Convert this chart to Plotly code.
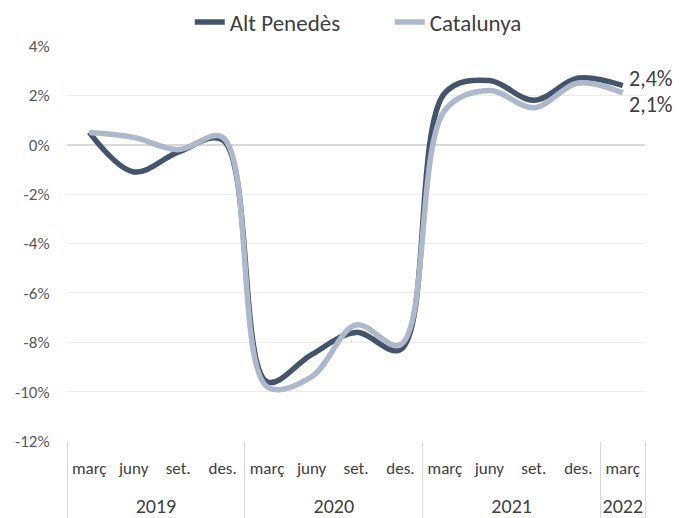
import plotly.graph_objects as go

years = ["2019"] * 4 + ["2020"] * 4 + ["2021"] * 4 + ["2022"]
months = ["març", "juny", "set.", "des."] * 3 + ["març"]
alt_penedes = [0.5, -1.1, -0.3, 0.2, -9.6, -8.5, -7.6, -8.3, 2.1, 2.6, 1.8, 2.7, 2.4]
catalunya = [0.5, 0.3, -0.2, 0.3, -9.8, -9.4, -7.3, -8.1, 1.4, 2.2, 1.5, 2.5, 2.1]
y_ticks = [4, 2, 0, -2, -4, -6, -8, -10, -12]
y_tick_labels = ["4%", "2%", "0%", "-2%", "-4%", "-6%", "-8%", "-10%", "-12%"]
end_labels = ["2,4%", "2,1%"]

# display labels: year labels pushed down one line for the gap between the two label levels
year_labels = ["&nbsp;<br><span style='font-size:20px'>" + y + "</span>" for y in years]
month_labels = ["<span style='font-size:17px'>" + m + "</span>" for m in months]
x_cats = [year_labels, month_labels]

FONT = "Carlito, Calibri, Lato, sans-serif"
DARK = "#44546A"
LIGHT = "#ADB9CA"

fig = go.Figure()
fig.add_trace(go.Scatter(x=x_cats, y=alt_penedes, name="Alt Penedès", mode="lines",
                         line=dict(color=DARK, width=5.5, shape="spline", smoothing=1.0)))
fig.add_trace(go.Scatter(x=x_cats, y=catalunya, name="Catalunya", mode="lines",
                         line=dict(color=LIGHT, width=5.5, shape="spline", smoothing=1.0)))

fig.add_annotation(x=[year_labels[-1], month_labels[-1]], y=alt_penedes[-1], text=end_labels[0], showarrow=False,
                   xanchor="left", xshift=4, yshift=7, font=dict(size=22, color="#404040", family=FONT))
fig.add_annotation(x=[year_labels[-1], month_labels[-1]], y=catalunya[-1], text=end_labels[1], showarrow=False,
                   xanchor="left", xshift=4, yshift=-12, font=dict(size=22, color="#404040", family=FONT))

fig.update_layout(
    width=679, height=518,
    margin=dict(l=67, r=34, t=46, b=77, autoexpand=False),
    paper_bgcolor="white", plot_bgcolor="white",
    font=dict(family=FONT, color="#595959", size=16),
    showlegend=True,
    legend=dict(orientation="h", x=0.574, xanchor="center", xref="container",
                y=1 - 22 / 518, yanchor="middle", yref="container",
                entrywidth=155, entrywidthmode="pixels",
                font=dict(size=23, color="#404040"), tracegroupgap=0),
    xaxis=dict(type="multicategory", range=[-0.5, 12.5], showgrid=False, showline=False,
               ticks="", ticklabelstandoff=11,
               showdividers=True, dividercolor="#D9D9D9", dividerwidth=1,
               tickfont=dict(size=21, color="#404040")),
    yaxis=dict(range=[-12, 4], tickvals=y_ticks, ticktext=y_tick_labels,
               showgrid=True, gridcolor="#EDEDED", gridwidth=1,
               zeroline=True, zerolinecolor="#D9D9D9", zerolinewidth=1.5,
               showline=False, ticks="outside", ticklen=13, tickcolor="rgba(0,0,0,0)",
               tickfont=dict(size=17, color="#595959")),
)

fig.write_html("out.html", config={"displayModeBar": False},
               post_script="document.body.style.margin='0px';")
